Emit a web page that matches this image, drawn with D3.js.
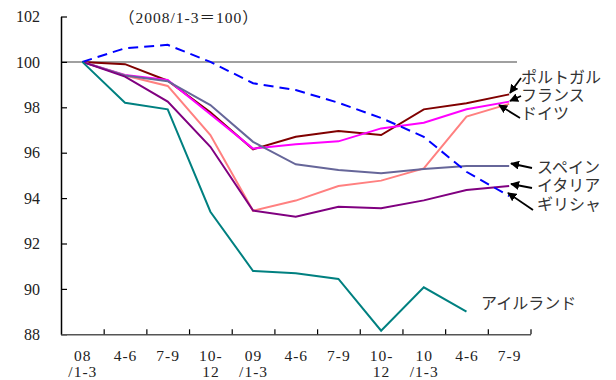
<!DOCTYPE html>
<html>
<head>
<meta charset="utf-8">
<script src="https://cdn.jsdelivr.net/npm/d3@7"></script>
<style>
  html, body { margin: 0; padding: 0; background: #fff; }
  svg { display: block; }
  text { font-family: "Liberation Serif", "Noto Sans CJK JP", serif; fill: #222; }
  .jp { font-family: "Noto Sans CJK JP", sans-serif; fill: #333; }
</style>
</head>
<body>
<svg id="chart" width="616" height="380"></svg>
<script>
// Quarters, 2008 Q1 to 2010 Q3 (index, 2008/1-3 = 100)
const quarters = ["08|/1-3", "4-6", "7-9", "10-|12", "09|/1-3", "4-6", "7-9", "10-|12", "10|/1-3", "4-6", "7-9"];
const yTicks = [88, 90, 92, 94, 96, 98, 100, 102];

const portugal = [100, 99.9, 99.17, 97.78, 96.15, 96.7, 96.96, 96.78, 97.91, 98.18, 98.57];
const france   = [100, 99.42, 99.2, 97.69, 96.18, 96.37, 96.5, 97.07, 97.32, 97.91, 98.25];
const germany  = [100, 99.4, 98.94, 96.78, 93.44, 93.89, 94.53, 94.77, 95.31, 97.59, 98.15];
const spain    = [100, 99.4, 99.15, 98.1, 96.48, 95.49, 95.24, 95.09, 95.28, 95.41, 95.41];
const italy    = [100, 99.35, 98.25, 96.26, 93.45, 93.18, 93.62, 93.55, 93.9, 94.36, 94.53];
const greece   = [100, 100.6, 100.75, 100.0, 99.06, 98.76, 98.2, 97.53, 96.7, 95.16, 94.09];
const ireland  = [100, 98.2, 97.91, 93.4, 90.79, 90.69, 90.44, 88.16, 90.07, 89.0];

const series = [
  { name: "ポルトガル", values: portugal, color: "#800000", dash: null },
  { name: "フランス",   values: france,   color: "#ff00ff", dash: null },
  { name: "ドイツ",     values: germany,  color: "#ff8080", dash: null },
  { name: "スペイン",   values: spain,    color: "#666699", dash: null },
  { name: "イタリア",   values: italy,    color: "#800080", dash: null },
  { name: "ギリシャ",   values: greece,   color: "#0000ff", dash: "10,6" },
  { name: "アイルランド", values: ireland, color: "#008080", dash: null }
];

const svg = d3.select("#chart");
const plot = { left: 61, right: 530.5, top: 16.5, bottom: 334.3 };

const x = d3.scaleBand().domain(d3.range(quarters.length)).range([plot.left, plot.right]);
const xEdge = d3.scaleLinear().domain([0, quarters.length]).range([plot.left, plot.right]);
const y = d3.scaleLinear().domain([88, 102]).range([plot.bottom, plot.top]);
const cx = i => x(i) + x.bandwidth() / 2;

// baseline at 100
svg.append("line")
  .attr("x1", plot.left).attr("x2", 517)
  .attr("y1", y(100)).attr("y2", y(100))
  .attr("stroke", "#808080").attr("stroke-width", 1.5);

// y axis
const yAxis = svg.append("g")
  .attr("transform", `translate(${plot.left},0)`)
  .call(d3.axisLeft(y).tickValues(yTicks).tickSizeInner(-6).tickSizeOuter(0).tickPadding(21));
yAxis.select(".domain").attr("stroke", "#000").attr("stroke-width", 1.5);
yAxis.selectAll(".tick line").attr("stroke", "#000").attr("stroke-width", 1.2);
yAxis.selectAll(".tick text").attr("font-size", 16).attr("fill", "#222")
  .attr("font-family", "Liberation Serif, serif");

// x axis: ticks on quarter boundaries
const xAxis = svg.append("g")
  .attr("transform", `translate(0,${plot.bottom})`)
  .call(d3.axisBottom(xEdge).tickValues(d3.range(1, quarters.length + 1))
    .tickSizeInner(-5).tickSizeOuter(0).tickFormat(""));
xAxis.select(".domain").attr("stroke", "#555").attr("stroke-width", 1.5);
xAxis.selectAll(".tick line").attr("stroke", "#000").attr("stroke-width", 1.2);

// quarter labels (two lines)
const lab = svg.append("g");
quarters.forEach((q, i) => {
  const parts = q.split("|");
  const t = lab.append("text")
    .attr("text-anchor", "middle")
    .attr("font-size", 15.5)
    .attr("letter-spacing", 1)
    .attr("font-family", "Liberation Serif, serif");
  parts.forEach((p, k) => {
    t.append("tspan").attr("x", cx(i) + 0.5).attr("y", 361 + k * 16).text(p);
  });
});

// series lines
const line = d3.line().x((d, i) => cx(i)).y(d => y(d));
svg.append("g").selectAll("path")
  .data(series)
  .join("path")
  .attr("d", d => line(d.values))
  .attr("fill", "none")
  .attr("stroke", d => d.color)
  .attr("stroke-width", 2)
  .attr("stroke-dasharray", d => d.dash)
  .attr("stroke-linejoin", "miter");

// unit note
svg.append("text")
  .attr("x", 119).attr("y", 23)
  .attr("font-size", 15.5)
  .attr("letter-spacing", 1)
  .text("（2008/1-3＝100）");

// name labels with arrows
svg.append("defs").append("marker")
  .attr("id", "ah").attr("viewBox", "0 0 10 10")
  .attr("refX", 9).attr("refY", 5)
  .attr("markerWidth", 5).attr("markerHeight", 5)
  .attr("orient", "auto-start-reverse")
  .append("path").attr("d", "M0,0 L10,5 L0,10 z").attr("fill", "#000");

const labels = [
  { text: "ポルトガル", x: 521, y: 77,  ax1: 521, ay1: 78,  ax2: 510, ay2: 93 },
  { text: "フランス",   x: 521, y: 95,  ax1: 521, ay1: 96,  ax2: 510, ay2: 101 },
  { text: "ドイツ",     x: 521, y: 113, ax1: 520, ay1: 118, ax2: 499, ay2: 105 },
  { text: "スペイン",   x: 537, y: 167, ax1: 532, ay1: 168, ax2: 511, ay2: 163.5 },
  { text: "イタリア",   x: 537, y: 185, ax1: 532, ay1: 188, ax2: 511, ay2: 184 },
  { text: "ギリシャ",   x: 537, y: 204, ax1: 533, ay1: 210, ax2: 508, ay2: 193 },
  { text: "アイルランド", x: 481, y: 303 }
];
const lg = svg.append("g");
labels.forEach(l => {
  lg.append("text").attr("class", "jp")
    .attr("x", l.x).attr("y", l.y)
    .attr("dy", "0.35em")
    .attr("font-size", 16)
    .text(l.text);
  if (l.ax1 !== undefined) {
    lg.append("line")
      .attr("x1", l.ax1).attr("y1", l.ay1).attr("x2", l.ax2).attr("y2", l.ay2)
      .attr("stroke", "#000").attr("stroke-width", 1.8)
      .attr("marker-end", "url(#ah)");
  }
});
</script>
</body>
</html>
